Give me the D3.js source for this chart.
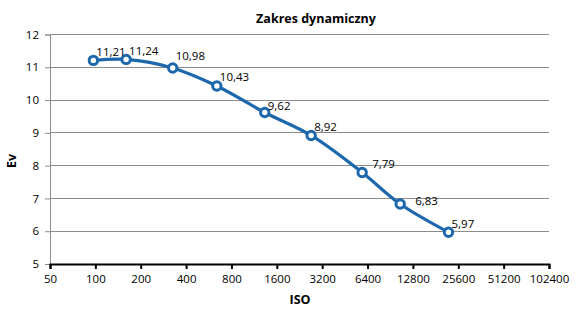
<!DOCTYPE html>
<html>
<head>
<meta charset="utf-8">
<title>Zakres dynamiczny</title>
<script src="https://d3js.org/d3.v7.min.js"></script>
<style>
    body { margin: 0; background: #fff; }
    svg { display: block; font-family: 'Open Sans', sans-serif; }
</style>
</head>
<body>
<svg width="580" height="311"></svg>
<script>
// data
const isoTicks = [50, 100, 200, 400, 800, 1600, 3200, 6400, 12800, 25600, 51200, 102400];
const evTicks = [5, 6, 7, 8, 9, 10, 11, 12];
const isoValues = [97, 160, 326, 640, 1331, 2704, 5894, 10540, 22050];
const evValues = [11.21, 11.24, 10.98, 10.43, 9.62, 8.92, 7.79, 6.83, 5.97];
// small nudges for the value labels (dx, dy in px)
const labelNudge = [[0, 0], [0, 0], [0, -3], [0, 0], [0, 2], [0, 0], [7, 0], [12, 5], [0, 0]];

const points = isoValues.map((v, i) => ({iso: v, ev: evValues[i]}));

const svg = d3.select("svg");
const plot = {left: 50, right: 549, top: 34.5, bottom: 264};

const x = d3.scaleLog().base(2).domain([50, 102400]).range([plot.left, plot.right]);
const y = d3.scaleLinear().domain([5, 12]).range([plot.bottom, plot.top]);

// gridlines
svg.append("g")
    .selectAll("line")
    .data(evTicks.slice(1))
    .join("line")
    .attr("x1", plot.left).attr("x2", plot.right)
    .attr("y1", d => y(d)).attr("y2", d => y(d))
    .attr("stroke", "#8c8c8c").attr("stroke-width", 1)
    .attr("shape-rendering", "crispEdges");

// y axis
const yAxis = svg.append("g")
    .attr("transform", `translate(${plot.left},0)`)
    .call(d3.axisLeft(y).tickValues(evTicks).tickFormat(d3.format("d")).tickSize(5).tickPadding(6));
yAxis.select(".domain").attr("stroke", "#8c8c8c");
yAxis.selectAll(".tick line").attr("stroke", "#8c8c8c");
yAxis.selectAll(".tick text").attr("font-size", "11.5px").attr("fill", "#000")
    .attr("font-family", "'Open Sans', sans-serif");

// x axis
const xAxis = svg.append("g")
    .attr("transform", `translate(0,${plot.bottom})`)
    .call(d3.axisBottom(x).tickValues(isoTicks).tickFormat(d => d).tickSize(5).tickPadding(6));
xAxis.select(".domain").attr("stroke", "#000").attr("stroke-width", 2);
xAxis.selectAll(".tick line").attr("stroke", "#000").attr("stroke-width", 2);
xAxis.selectAll(".tick text").attr("font-size", "11.5px").attr("fill", "#000")
    .attr("font-family", "'Open Sans', sans-serif");

// smoothed line
const line = d3.line()
    .x(d => x(d.iso))
    .y(d => y(d.ev))
    .curve(d3.curveCatmullRom.alpha(0.5));

svg.append("path")
    .datum(points)
    .attr("d", line)
    .attr("fill", "none")
    .attr("stroke", "#1d68ad")
    .attr("stroke-width", 3.2);

// markers
svg.append("g")
    .selectAll("circle")
    .data(points)
    .join("circle")
    .attr("cx", d => x(d.iso))
    .attr("cy", d => y(d.ev))
    .attr("r", 4.2)
    .attr("fill", "#fff")
    .attr("stroke", "#1d68ad")
    .attr("stroke-width", 3);

// value labels
const fmt = d3.format(".2f");
svg.append("g")
    .selectAll("text")
    .data(points)
    .join("text")
    .attr("x", (d, i) => x(d.iso) + 3 + labelNudge[i][0])
    .attr("y", (d, i) => y(d.ev) - 4.5 + labelNudge[i][1])
    .attr("font-size", "11.5px")
    .attr("fill", "#000")
    .text(d => fmt(d.ev).replace(".", ","));

// title
svg.append("text")
    .attr("x", 316).attr("y", 23)
    .attr("text-anchor", "middle")
    .attr("font-size", "12.5px")
    .attr("font-weight", "bold")
    .text("Zakres dynamiczny");

// axis titles
svg.append("text")
    .attr("x", 300).attr("y", 304)
    .attr("text-anchor", "middle")
    .attr("font-size", "12.5px")
    .attr("font-weight", "bold")
    .text("ISO");

svg.append("text")
    .attr("transform", "translate(16,161) rotate(-90)")
    .attr("text-anchor", "middle")
    .attr("font-size", "12.5px")
    .attr("font-weight", "bold")
    .text("Ev");
</script>
</body>
</html>
